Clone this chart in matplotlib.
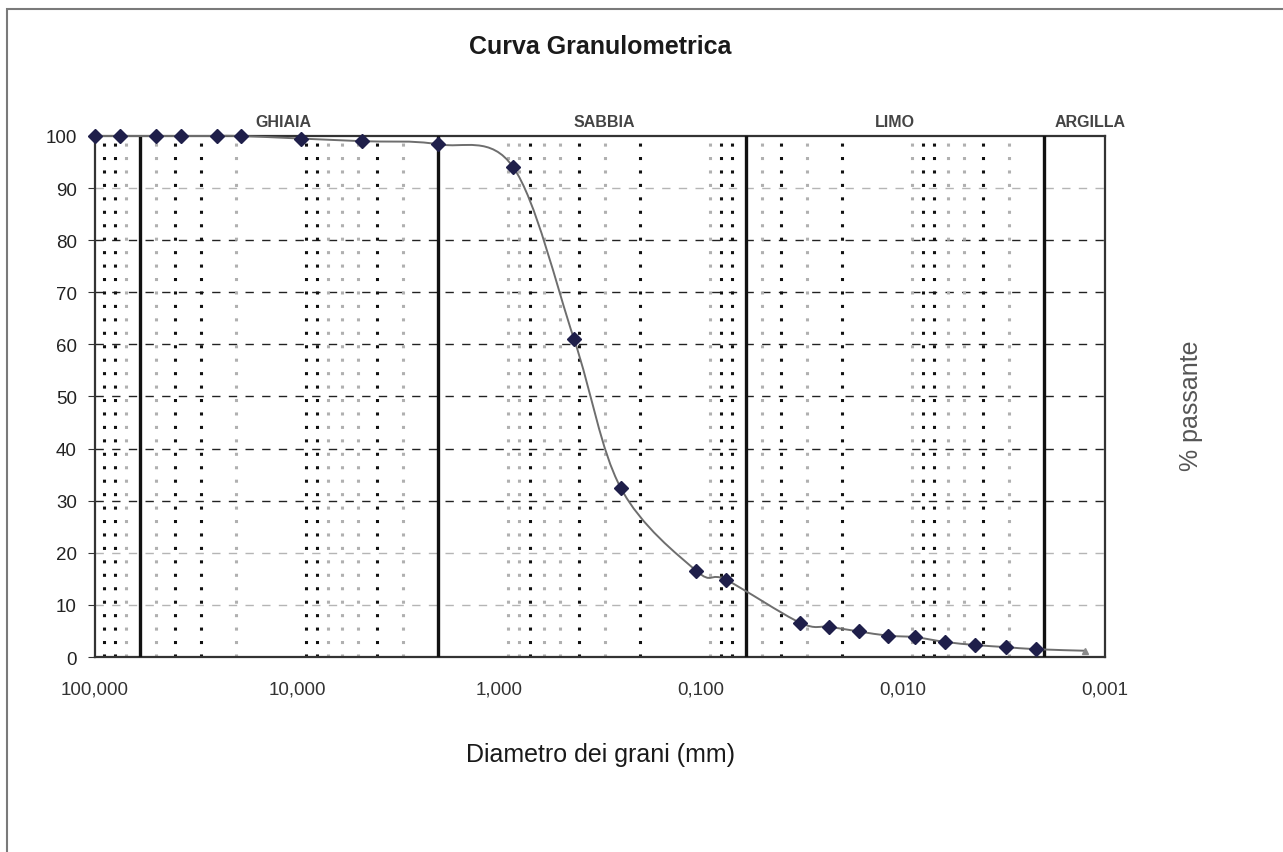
import numpy as np
import matplotlib.pyplot as plt
from matplotlib.path import Path
from matplotlib.patches import PathPatch, Rectangle
from matplotlib.ticker import FixedLocator, FuncFormatter, NullLocator

plt.rcParams['font.family'] = ['Liberation Sans', 'DejaVu Sans']

# dati granulometrici (diametro mm, % passante)
diametri = [100, 75, 50, 37.5, 25, 19, 9.5, 4.75, 2.0, 0.85, 0.425, 0.25, 0.106, 0.075,
            0.0324, 0.0232, 0.0165, 0.0119, 0.0087, 0.0062, 0.0044, 0.0031, 0.0022, 0.00125]
passante = [100, 100, 100, 100, 100, 100, 99.5, 99.0, 98.4, 94.0, 61.0, 32.5, 16.6, 14.8,
            6.6, 5.8, 4.9, 4.1, 3.8, 2.9, 2.3, 1.9, 1.5, 1.2]

# limiti delle classi
limiti = [60, 2, 0.06, 0.002]
classi = ['GHIAIA', 'SABBIA', 'LIMO', 'ARGILLA']
pos_classi = [11.7, 0.30, 0.011, 0.00119]

ticks_x = [100, 10, 1, 0.1, 0.01, 0.001]
ticks_y = list(range(0, 101, 10))

# linee verticali punteggiate (scure / chiare come nella scansione)
righe_scure = [90, 80, 40, 30, 9, 8, 4, 0.7, 0.4, 0.2, 0.08, 0.07, 0.04, 0.02,
               0.008, 0.007, 0.004]
righe_chiare = [70, 50, 20, 7, 6, 5, 3, 0.9, 0.8, 0.6, 0.5, 0.3, 0.09, 0.05, 0.03,
                0.009, 0.006, 0.005, 0.003]
griglia_scura = [30, 40, 50, 60, 70, 80]
griglia_chiara = [10, 20, 90]

fig = plt.figure(figsize=(12.83, 8.53), dpi=100)
ax = fig.add_axes([0.074, 0.2286, 0.7873, 0.6108])
ax.set_xscale('log')
ax.set_xlim(100, 0.001)
ax.set_ylim(0, 100)

# griglia orizzontale
for g in griglia_scura:
    ax.axhline(g, color='#222222', lw=1.0, ls=(0, (6, 6)), zorder=1)
for g in griglia_chiara:
    ax.axhline(g, color='#b5b5b5', lw=1.0, ls=(0, (6, 6)), zorder=1)

# linee verticali punteggiate
for v in righe_scure:
    ax.axvline(v, color='#111111', lw=2.2, ls=(0, (1, 3.4)), zorder=2)
for v in righe_chiare:
    ax.axvline(v, color='#b0b0b0', lw=2.2, ls=(0, (1, 3.4)), zorder=2)

# limiti delle classi
for v in limiti:
    ax.axvline(v, color='#111111', lw=2.4, zorder=3)

# curva smussata (Catmull-Rom in spazio log)
lx = np.log10(diametri)
py = np.array(passante, dtype=float)
pts = np.column_stack([lx, py])
verts = [pts[0]]
codes = [Path.MOVETO]
n = len(pts)
for i in range(n - 1):
    p0 = pts[i - 1] if i > 0 else pts[i]
    p1 = pts[i]
    p2 = pts[i + 1]
    p3 = pts[i + 2] if i + 2 < n else pts[i + 1]
    c1 = p1 + (p2 - p0) / 6.0
    c2 = p2 - (p3 - p1) / 6.0
    verts += [c1, c2, p2]
    codes += [Path.CURVE4] * 3
verts = np.array(verts)
verts[:, 0] = 10 ** verts[:, 0]
curva = PathPatch(Path(verts, codes), fill=False, edgecolor='#6e6e6e', lw=1.4,
                  transform=ax.transData, zorder=4, clip_on=False)
ax.add_patch(curva)

ax.plot(diametri[:-1], passante[:-1], ls='none', marker='D', ms=7,
        color='#1f1f4a', zorder=5, clip_on=False)
ax.plot(diametri[-1:], passante[-1:], ls='none', marker='^', ms=5,
        color='#8a8a8a', zorder=5, clip_on=False)

# assi
ax.xaxis.set_major_locator(FixedLocator(ticks_x))
ax.xaxis.set_minor_locator(NullLocator())
ax.xaxis.set_major_formatter(FuncFormatter(lambda v, p: f"{v:.3f}".replace('.', ',')))
ax.yaxis.set_major_locator(FixedLocator(ticks_y))
ax.tick_params(axis='x', length=0, pad=17, labelsize=13.5, labelcolor='#333333')
ax.tick_params(axis='y', length=5, direction='out', pad=8, labelsize=13.5,
               labelcolor='#222222', color='#333333')
for s in ax.spines.values():
    s.set_color('#333333')
    s.set_linewidth(1.6)

# etichette classi
for c, x in zip(classi, pos_classi):
    ax.text(x, 1.027, c, transform=ax.get_xaxis_transform(), ha='center', va='center',
            fontsize=11.5, fontweight='bold', color='#444444')

fig.text(0.468, 0.945, 'Curva Granulometrica', ha='center', va='center',
         fontsize=18, fontweight='bold', color='#1a1a1a')
fig.text(0.468, 0.115, 'Diametro dei grani (mm)', ha='center', va='center',
         fontsize=18, color='#1a1a1a')
fig.text(0.928, 0.524, '% passante', ha='center', va='center', rotation=90,
         fontsize=18, color='#555555')

# cornice esterna (solo lati superiore e sinistro visibili)
fig.patches.append(Rectangle((7, -60), 1300, 853 - 10 + 60, transform=None,
                             fill=False, edgecolor='#7a7a7a', lw=1.5))

fig.savefig('out.png', dpi=100)
